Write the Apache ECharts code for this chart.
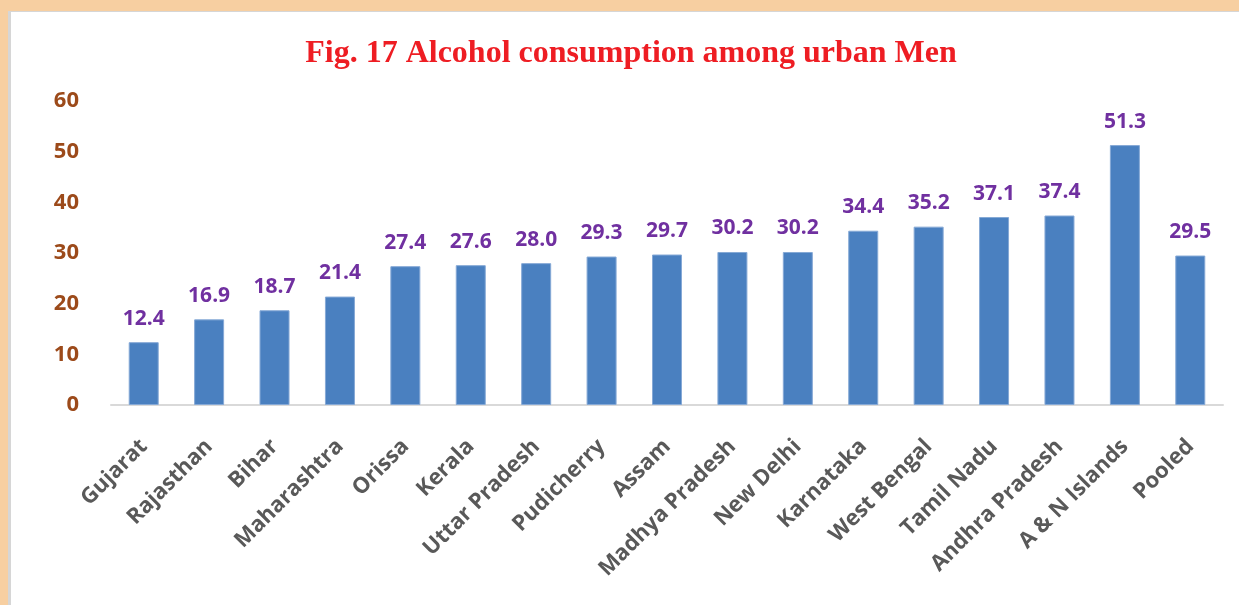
<!DOCTYPE html>
<html>
<head>
<meta charset="utf-8">
<title>Fig. 17 Alcohol consumption among urban Men</title>
<script src="https://cdn.jsdelivr.net/npm/echarts@6/dist/echarts.min.js"></script>
<style>
  html, body { margin: 0; padding: 0; width: 1239px; height: 605px; background: #F7CFA1; overflow: hidden; }
  #chart {
    position: absolute; left: 8px; top: 11px;
    width: 1228px; height: 593px;
    background: #ffffff;
    border-left: 3px solid #D6D6D6;
    border-top: 1px solid #D6D6D6;
  }
</style>
</head>
<body>
<div id="chart"></div>
<script>
// data
var states = ['Gujarat', 'Rajasthan', 'Bihar', 'Maharashtra', 'Orissa', 'Kerala', 'Uttar Pradesh',
  'Pudicherry', 'Assam', 'Madhya Pradesh', 'New Delhi', 'Karnataka', 'West Bengal',
  'Tamil Nadu', 'Andhra Pradesh', 'A & N Islands', 'Pooled'];
var percentMen = [12.4, 16.9, 18.7, 21.4, 27.4, 27.6, 28.0, 29.3, 29.7, 30.2, 30.2, 34.4, 35.2,
  37.1, 37.4, 51.3, 29.5];
var yTicks = [0, 10, 20, 30, 40, 50, 60];

var myChart = echarts.init(document.getElementById('chart'));
myChart.setOption({
  animation: false,
  title: {
    text: 'Fig. 17 Alcohol consumption among urban Men',
    left: 615,
    textAlign: 'center',
    top: 21,
    textStyle: {
      fontFamily: 'Liberation Serif',
      fontWeight: 'bold',
      fontSize: 32,
      color: '#EE1D23'
    }
  },
  grid: { left: 100, right: 16, top: 89, bottom: 200 },
  xAxis: {
    type: 'category',
    data: states,
    axisLine: { lineStyle: { color: '#D9D9D9', width: 2 } },
    axisTick: { show: false },
    axisLabel: {
      interval: 0,
      rotate: 45,
      margin: 38,
      color: '#595959',
      fontFamily: 'Open Sans',
      fontWeight: 'bold',
      fontSize: 22
    }
  },
  yAxis: {
    type: 'value',
    min: yTicks[0],
    max: yTicks[yTicks.length - 1],
    interval: 10,
    splitLine: { show: false },
    axisLine: { show: false },
    axisTick: { show: false },
    axisLabel: {
      margin: 32,
      color: '#9C4A1A',
      fontFamily: 'Open Sans',
      fontWeight: 'bold',
      fontSize: 22
    }
  },
  series: [
    {
      type: 'bar',
      data: percentMen,
      barWidth: 30,
      itemStyle: { color: '#4A80C0', borderColor: '#86A9D6', borderWidth: 1 },
      label: {
        show: true,
        position: 'top',
        distance: 13,
        formatter: function (p) { return p.value.toFixed(1); },
        color: '#7030A0',
        fontFamily: 'Open Sans',
        fontWeight: 'bold',
        fontSize: 21
      }
    }
  ]
});
</script>
</body>
</html>
